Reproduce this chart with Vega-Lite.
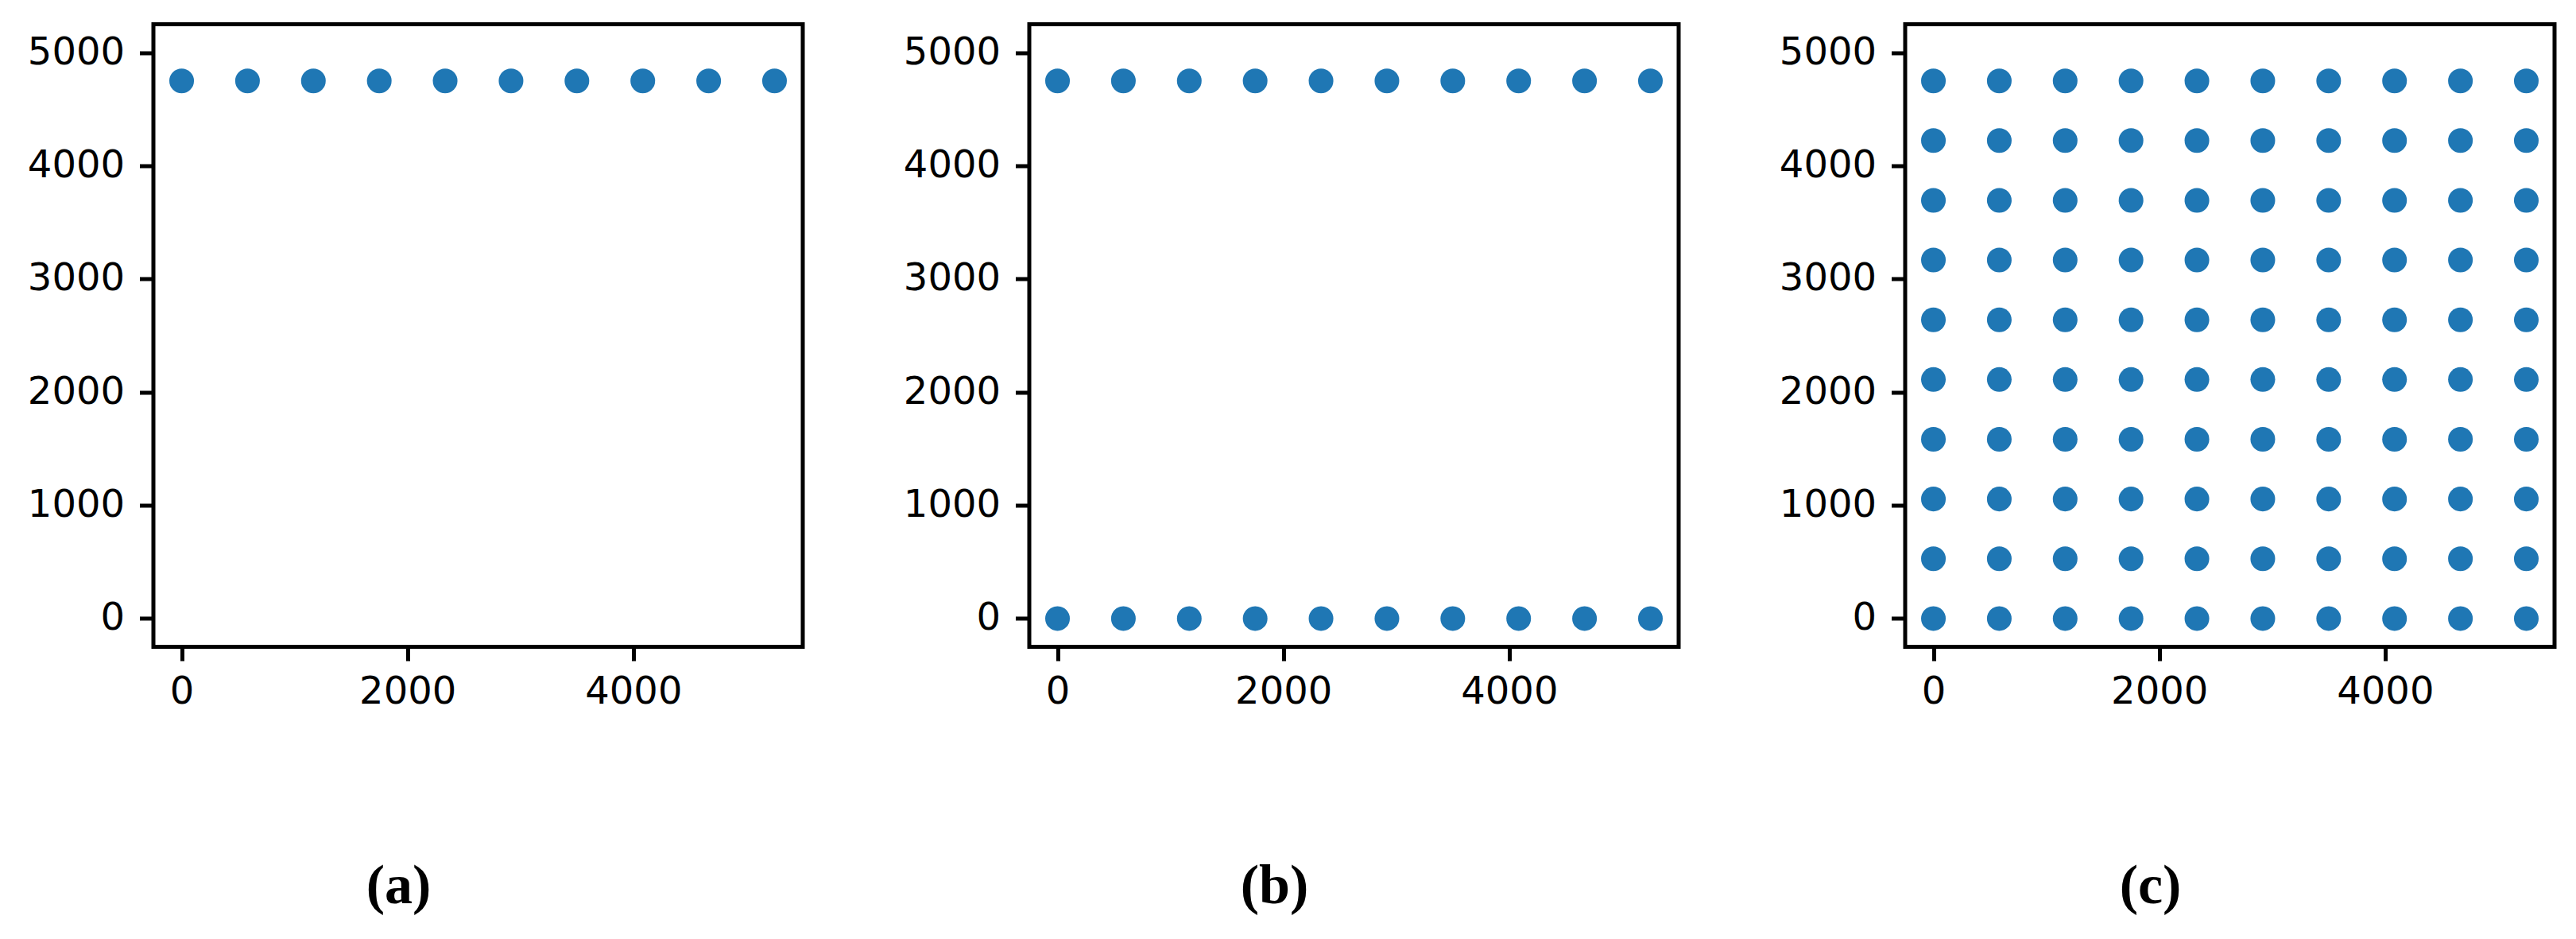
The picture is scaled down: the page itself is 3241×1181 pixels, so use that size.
{
  "$schema": "https://vega.github.io/schema/vega-lite/v6.json",
  "background": "white",
  "padding": {"left": 30, "top": 27.5, "right": 0, "bottom": 0},
  "bounds": "flush",
  "spacing": 285,
  "datasets": {
    "pts": [
      {"panel": "a", "x": 0, "y": 4750}, {"panel": "a", "x": 583.3, "y": 4750}, {"panel": "a", "x": 1166.7, "y": 4750}, {"panel": "a", "x": 1750, "y": 4750}, {"panel": "a", "x": 2333.3, "y": 4750}, {"panel": "a", "x": 2916.7, "y": 4750}, {"panel": "a", "x": 3500, "y": 4750}, {"panel": "a", "x": 4083.3, "y": 4750}, {"panel": "a", "x": 4666.7, "y": 4750}, {"panel": "a", "x": 5250, "y": 4750},
      {"panel": "b", "x": 0, "y": 4750}, {"panel": "b", "x": 583.3, "y": 4750}, {"panel": "b", "x": 1166.7, "y": 4750}, {"panel": "b", "x": 1750, "y": 4750}, {"panel": "b", "x": 2333.3, "y": 4750}, {"panel": "b", "x": 2916.7, "y": 4750}, {"panel": "b", "x": 3500, "y": 4750}, {"panel": "b", "x": 4083.3, "y": 4750}, {"panel": "b", "x": 4666.7, "y": 4750}, {"panel": "b", "x": 5250, "y": 4750},
      {"panel": "b", "x": 0, "y": 0}, {"panel": "b", "x": 583.3, "y": 0}, {"panel": "b", "x": 1166.7, "y": 0}, {"panel": "b", "x": 1750, "y": 0}, {"panel": "b", "x": 2333.3, "y": 0}, {"panel": "b", "x": 2916.7, "y": 0}, {"panel": "b", "x": 3500, "y": 0}, {"panel": "b", "x": 4083.3, "y": 0}, {"panel": "b", "x": 4666.7, "y": 0}, {"panel": "b", "x": 5250, "y": 0},
      {"panel": "c", "x": 0, "y": 0}, {"panel": "c", "x": 583.3, "y": 0}, {"panel": "c", "x": 1166.7, "y": 0}, {"panel": "c", "x": 1750, "y": 0}, {"panel": "c", "x": 2333.3, "y": 0}, {"panel": "c", "x": 2916.7, "y": 0}, {"panel": "c", "x": 3500, "y": 0}, {"panel": "c", "x": 4083.3, "y": 0}, {"panel": "c", "x": 4666.7, "y": 0}, {"panel": "c", "x": 5250, "y": 0},
      {"panel": "c", "x": 0, "y": 527.8}, {"panel": "c", "x": 583.3, "y": 527.8}, {"panel": "c", "x": 1166.7, "y": 527.8}, {"panel": "c", "x": 1750, "y": 527.8}, {"panel": "c", "x": 2333.3, "y": 527.8}, {"panel": "c", "x": 2916.7, "y": 527.8}, {"panel": "c", "x": 3500, "y": 527.8}, {"panel": "c", "x": 4083.3, "y": 527.8}, {"panel": "c", "x": 4666.7, "y": 527.8}, {"panel": "c", "x": 5250, "y": 527.8},
      {"panel": "c", "x": 0, "y": 1055.6}, {"panel": "c", "x": 583.3, "y": 1055.6}, {"panel": "c", "x": 1166.7, "y": 1055.6}, {"panel": "c", "x": 1750, "y": 1055.6}, {"panel": "c", "x": 2333.3, "y": 1055.6}, {"panel": "c", "x": 2916.7, "y": 1055.6}, {"panel": "c", "x": 3500, "y": 1055.6}, {"panel": "c", "x": 4083.3, "y": 1055.6}, {"panel": "c", "x": 4666.7, "y": 1055.6}, {"panel": "c", "x": 5250, "y": 1055.6},
      {"panel": "c", "x": 0, "y": 1583.3}, {"panel": "c", "x": 583.3, "y": 1583.3}, {"panel": "c", "x": 1166.7, "y": 1583.3}, {"panel": "c", "x": 1750, "y": 1583.3}, {"panel": "c", "x": 2333.3, "y": 1583.3}, {"panel": "c", "x": 2916.7, "y": 1583.3}, {"panel": "c", "x": 3500, "y": 1583.3}, {"panel": "c", "x": 4083.3, "y": 1583.3}, {"panel": "c", "x": 4666.7, "y": 1583.3}, {"panel": "c", "x": 5250, "y": 1583.3},
      {"panel": "c", "x": 0, "y": 2111.1}, {"panel": "c", "x": 583.3, "y": 2111.1}, {"panel": "c", "x": 1166.7, "y": 2111.1}, {"panel": "c", "x": 1750, "y": 2111.1}, {"panel": "c", "x": 2333.3, "y": 2111.1}, {"panel": "c", "x": 2916.7, "y": 2111.1}, {"panel": "c", "x": 3500, "y": 2111.1}, {"panel": "c", "x": 4083.3, "y": 2111.1}, {"panel": "c", "x": 4666.7, "y": 2111.1}, {"panel": "c", "x": 5250, "y": 2111.1},
      {"panel": "c", "x": 0, "y": 2638.9}, {"panel": "c", "x": 583.3, "y": 2638.9}, {"panel": "c", "x": 1166.7, "y": 2638.9}, {"panel": "c", "x": 1750, "y": 2638.9}, {"panel": "c", "x": 2333.3, "y": 2638.9}, {"panel": "c", "x": 2916.7, "y": 2638.9}, {"panel": "c", "x": 3500, "y": 2638.9}, {"panel": "c", "x": 4083.3, "y": 2638.9}, {"panel": "c", "x": 4666.7, "y": 2638.9}, {"panel": "c", "x": 5250, "y": 2638.9},
      {"panel": "c", "x": 0, "y": 3166.7}, {"panel": "c", "x": 583.3, "y": 3166.7}, {"panel": "c", "x": 1166.7, "y": 3166.7}, {"panel": "c", "x": 1750, "y": 3166.7}, {"panel": "c", "x": 2333.3, "y": 3166.7}, {"panel": "c", "x": 2916.7, "y": 3166.7}, {"panel": "c", "x": 3500, "y": 3166.7}, {"panel": "c", "x": 4083.3, "y": 3166.7}, {"panel": "c", "x": 4666.7, "y": 3166.7}, {"panel": "c", "x": 5250, "y": 3166.7},
      {"panel": "c", "x": 0, "y": 3694.4}, {"panel": "c", "x": 583.3, "y": 3694.4}, {"panel": "c", "x": 1166.7, "y": 3694.4}, {"panel": "c", "x": 1750, "y": 3694.4}, {"panel": "c", "x": 2333.3, "y": 3694.4}, {"panel": "c", "x": 2916.7, "y": 3694.4}, {"panel": "c", "x": 3500, "y": 3694.4}, {"panel": "c", "x": 4083.3, "y": 3694.4}, {"panel": "c", "x": 4666.7, "y": 3694.4}, {"panel": "c", "x": 5250, "y": 3694.4},
      {"panel": "c", "x": 0, "y": 4222.2}, {"panel": "c", "x": 583.3, "y": 4222.2}, {"panel": "c", "x": 1166.7, "y": 4222.2}, {"panel": "c", "x": 1750, "y": 4222.2}, {"panel": "c", "x": 2333.3, "y": 4222.2}, {"panel": "c", "x": 2916.7, "y": 4222.2}, {"panel": "c", "x": 3500, "y": 4222.2}, {"panel": "c", "x": 4083.3, "y": 4222.2}, {"panel": "c", "x": 4666.7, "y": 4222.2}, {"panel": "c", "x": 5250, "y": 4222.2},
      {"panel": "c", "x": 0, "y": 4750}, {"panel": "c", "x": 583.3, "y": 4750}, {"panel": "c", "x": 1166.7, "y": 4750}, {"panel": "c", "x": 1750, "y": 4750}, {"panel": "c", "x": 2333.3, "y": 4750}, {"panel": "c", "x": 2916.7, "y": 4750}, {"panel": "c", "x": 3500, "y": 4750}, {"panel": "c", "x": 4083.3, "y": 4750}, {"panel": "c", "x": 4666.7, "y": 4750}, {"panel": "c", "x": 5250, "y": 4750}
    ]
  },
  "hconcat": [
    {
      "width": 817, "height": 783,
      "data": {"name": "pts"},
      "transform": [{"filter": "datum.panel === 'a'"}],
      "title": {"text": "(a)", "orient": "bottom", "anchor": "middle", "frame": "group", "dx": -100, "offset": 232, "baseline": "alphabetic"},
      "mark": {"type": "circle", "size": 962, "color": "#1f77b4", "opacity": 1},
      "encoding": {
        "x": {"field": "x", "type": "quantitative", "scale": {"domain": [-250, 5500], "nice": false, "zero": false}, "axis": {"values": [0, 2000, 4000], "title": null, "format": "d"}},
        "y": {"field": "y", "type": "quantitative", "scale": {"domain": [-250, 5250], "nice": false, "zero": false}, "axis": {"values": [0, 1000, 2000, 3000, 4000, 5000], "title": null, "format": "d"}}
      }
    },
    {
      "width": 817, "height": 783,
      "data": {"name": "pts"},
      "transform": [{"filter": "datum.panel === 'b'"}],
      "title": {"text": "(b)", "orient": "bottom", "anchor": "middle", "frame": "group", "dx": -100, "offset": 232, "baseline": "alphabetic"},
      "mark": {"type": "circle", "size": 962, "color": "#1f77b4", "opacity": 1},
      "encoding": {
        "x": {"field": "x", "type": "quantitative", "scale": {"domain": [-250, 5500], "nice": false, "zero": false}, "axis": {"values": [0, 2000, 4000], "title": null, "format": "d"}},
        "y": {"field": "y", "type": "quantitative", "scale": {"domain": [-250, 5250], "nice": false, "zero": false}, "axis": {"values": [0, 1000, 2000, 3000, 4000, 5000], "title": null, "format": "d"}}
      }
    },
    {
      "width": 817, "height": 783,
      "data": {"name": "pts"},
      "transform": [{"filter": "datum.panel === 'c'"}],
      "title": {"text": "(c)", "orient": "bottom", "anchor": "middle", "frame": "group", "dx": -100, "offset": 232, "baseline": "alphabetic"},
      "mark": {"type": "circle", "size": 962, "color": "#1f77b4", "opacity": 1},
      "encoding": {
        "x": {"field": "x", "type": "quantitative", "scale": {"domain": [-250, 5500], "nice": false, "zero": false}, "axis": {"values": [0, 2000, 4000], "title": null, "format": "d"}},
        "y": {"field": "y", "type": "quantitative", "scale": {"domain": [-250, 5250], "nice": false, "zero": false}, "axis": {"values": [0, 1000, 2000, 3000, 4000, 5000], "title": null, "format": "d"}}
      }
    }
  ],
  "config": {
    "view": {"stroke": "black", "strokeWidth": 5},
    "axis": {
      "domain": false,
      "grid": false,
      "ticks": true,
      "tickColor": "black",
      "tickWidth": 5,
      "tickSize": 17.5,
      "labelFont": "DejaVu Sans",
      "labelFontSize": 48,
      "labelColor": "black",
      "labelFlush": false,
      "labelOverlap": false
    },
    "axisY": {"labelPadding": 19, "minExtent": 160, "maxExtent": 160},
    "axisX": {"labelPadding": 15, "minExtent": 90, "maxExtent": 90},
    "title": {"font": "Liberation Serif", "fontSize": 70, "fontWeight": "bold", "color": "black"}
  }
}
